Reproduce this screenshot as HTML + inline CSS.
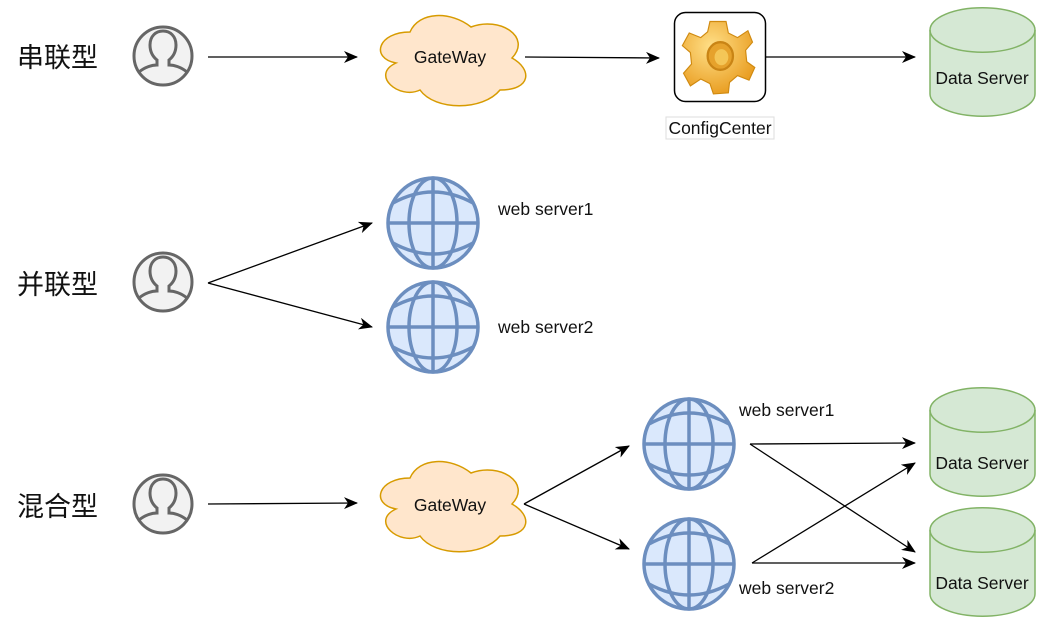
<!DOCTYPE html>
<html><head><meta charset="utf-8"><style>
html,body{margin:0;padding:0;background:#fff;}
svg{display:block;}
text{font-family:"Liberation Sans",Arial,sans-serif;}
.cn{font-family:"Liberation Sans","Noto Sans CJK SC",sans-serif;font-size:27px;fill:#111;}
</style></head><body>
<svg width="1056" height="620" viewBox="0 0 1056 620" xmlns="http://www.w3.org/2000/svg">
<defs>
<marker id="ar" markerWidth="14" markerHeight="12" refX="13" refY="6" orient="auto" markerUnits="userSpaceOnUse">
<path d="M0,0 L14,6 L0,12 L4,6 Z" fill="#000"/></marker>
<g id="person">
<circle cx="0" cy="0" r="29" fill="#f2f2f2" stroke="#666" stroke-width="3"/>
<path d="M-24,16 C-18,11 -11,9 -6,9 L-6,4 C-11,0 -13,-5 -13,-11 C-13,-20 -7,-25 0,-25 C7,-25 13,-20 13,-11 C13,-5 11,0 6,4 L6,9 C11,9 18,11 24,16" fill="none" stroke="#666" stroke-width="3"/>
</g>
<g id="cloud">
<path d="M40,26 C8,26 0,52 26,57 C0,69 29,94 50,84 C65,105 113,105 130,84 C162,84 162,63 142,52 C162,31 130,10 101,21 C81,5 49,5 40,26 Z" fill="#ffe6cc" stroke="#d79b00" stroke-width="1.5"/>
</g>
<g id="globe" fill="none" stroke="#6c8ebf" stroke-width="3.5">
<circle cx="0" cy="0" r="45" fill="#dae8fc"/>
<line x1="-45" y1="0" x2="45" y2="0"/>
<line x1="0" y1="-45" x2="0" y2="45"/>
<ellipse cx="0" cy="0" rx="24" ry="45"/>
<path d="M-40,-20 Q0,-42 40,-20"/>
<path d="M-40,20 Q0,42 40,20"/>
</g>
<g id="cyl">
<path d="M0,22 A52,22 0 0 1 105,22 L105,86 A52,22 0 0 1 0,86 Z" fill="#d5e8d4" stroke="#82b366" stroke-width="1.5"/>
<path d="M0,22 A52,22 0 0 0 105,22" fill="none" stroke="#82b366" stroke-width="1.5"/>
</g>
<radialGradient id="gg" cx="0.4" cy="0.35" r="0.7"><stop offset="0" stop-color="#ffe089"/><stop offset="1" stop-color="#e89a1c"/></radialGradient>
</defs>

<text class="cn" x="17" y="67">串联型</text>
<text class="cn" x="17" y="294">并联型</text>
<text class="cn" x="17" y="516">混合型</text>

<use href="#person" x="163" y="56"/>
<use href="#person" x="163" y="282"/>
<use href="#person" x="163" y="504"/>

<!-- row 1 -->
<line x1="208" y1="57" x2="357" y2="57" stroke="#000" stroke-width="1.3" marker-end="url(#ar)"/>
<g transform="translate(370,6)"><use href="#cloud"/></g>
<text x="450" y="63" font-size="17.5" text-anchor="middle" fill="#111">GateWay</text>
<line x1="525" y1="57" x2="659" y2="58" stroke="#000" stroke-width="1.3" marker-end="url(#ar)"/>
<rect x="674.5" y="12.5" width="91" height="89" rx="11" fill="#fff" stroke="#000" stroke-width="1.5"/>
<g transform="translate(718,56) scale(1.15)">
<path d="M-7,-30 L7,-30 L9,-20 L17,-16 L26,-22 L30,-12 L24,-5 L25,5 L32,10 L27,21 L17,17 L10,23 L9,32 L-4,33 L-7,24 L-15,20 L-24,26 L-30,15 L-23,7 L-24,-3 L-31,-9 L-25,-20 L-15,-16 L-9,-21 Z" fill="url(#gg)" stroke="#d08a10" stroke-width="1"/>
<ellipse cx="2" cy="0" rx="11" ry="12" fill="#e6a22c" stroke="#c98415" stroke-width="2"/>
<ellipse cx="3" cy="1" rx="6" ry="7" fill="#f4c657"/>
</g>
<rect x="666" y="117" width="108" height="22" fill="#fff" stroke="#ddd" stroke-width="1"/>
<text x="720" y="134" font-size="17.5" text-anchor="middle" fill="#111">ConfigCenter</text>
<line x1="766" y1="57" x2="915" y2="57" stroke="#000" stroke-width="1.3" marker-end="url(#ar)"/>
<g transform="translate(930,8)"><use href="#cyl"/></g>
<text x="982" y="84" font-size="17.5" text-anchor="middle" fill="#111">Data Server</text>

<!-- row 2 -->
<line x1="208" y1="283" x2="372" y2="223" stroke="#000" stroke-width="1.3" marker-end="url(#ar)"/>
<line x1="208" y1="283" x2="372" y2="327" stroke="#000" stroke-width="1.3" marker-end="url(#ar)"/>
<use href="#globe" x="433" y="223"/>
<use href="#globe" x="433" y="327"/>
<text x="498" y="215" font-size="17.5" fill="#111">web server1</text>
<text x="498" y="333" font-size="17.5" fill="#111">web server2</text>

<!-- row 3 -->
<line x1="208" y1="504" x2="357" y2="503" stroke="#000" stroke-width="1.3" marker-end="url(#ar)"/>
<g transform="translate(370,452)"><use href="#cloud"/></g>
<text x="450" y="511" font-size="17.5" text-anchor="middle" fill="#111">GateWay</text>
<line x1="524" y1="504" x2="629" y2="446" stroke="#000" stroke-width="1.3" marker-end="url(#ar)"/>
<line x1="524" y1="504" x2="629" y2="549" stroke="#000" stroke-width="1.3" marker-end="url(#ar)"/>
<use href="#globe" x="689" y="444"/>
<use href="#globe" x="689" y="564"/>
<text x="739" y="416" font-size="17.5" fill="#111">web server1</text>
<text x="739" y="594" font-size="17.5" fill="#111">web server2</text>
<line x1="750" y1="444" x2="915" y2="443" stroke="#000" stroke-width="1.3" marker-end="url(#ar)"/>
<line x1="750" y1="444" x2="915" y2="552" stroke="#000" stroke-width="1.3" marker-end="url(#ar)"/>
<line x1="752" y1="563" x2="915" y2="463" stroke="#000" stroke-width="1.3" marker-end="url(#ar)"/>
<line x1="752" y1="563" x2="915" y2="563" stroke="#000" stroke-width="1.3" marker-end="url(#ar)"/>
<g transform="translate(930,388)"><use href="#cyl"/></g>
<text x="982" y="469" font-size="17.5" text-anchor="middle" fill="#111">Data Server</text>
<g transform="translate(930,508)"><use href="#cyl"/></g>
<text x="982" y="589" font-size="17.5" text-anchor="middle" fill="#111">Data Server</text>
</svg>
</body></html>
